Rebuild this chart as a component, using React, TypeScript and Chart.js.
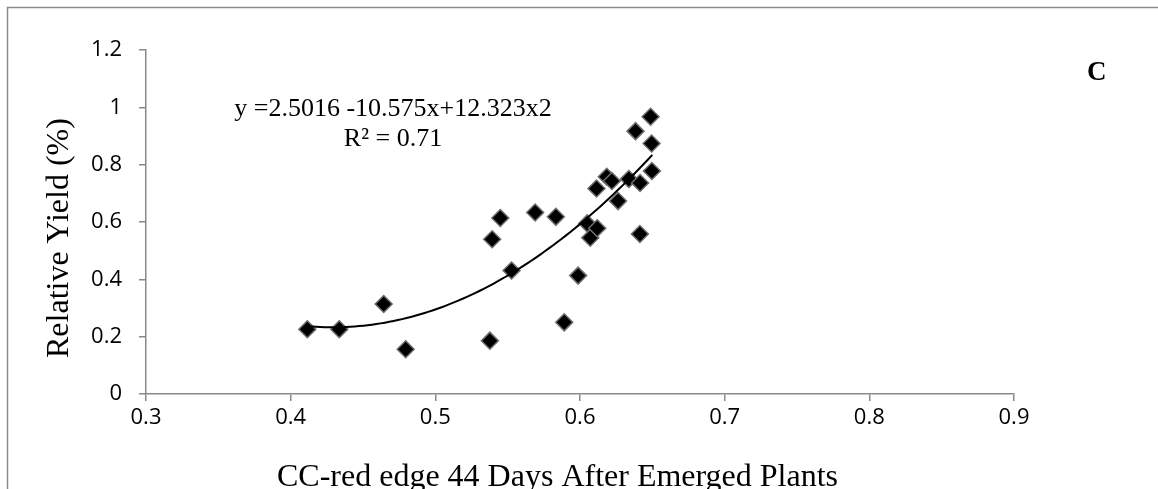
import React, { useEffect, useRef } from "react";
import { Chart, registerables } from "chart.js";

Chart.register(...registerables);

// Observed data (CC-red edge 44 DAE vs relative yield)
const ccRedEdge = [
  0.4115, 0.4336, 0.4643, 0.4795, 0.5377, 0.5393, 0.5449, 0.5527, 0.569, 0.5833,
  0.5891, 0.5987, 0.605, 0.6071, 0.6119, 0.6114, 0.6185, 0.622, 0.6263, 0.6338,
  0.6415, 0.6414, 0.6384, 0.6488, 0.6495, 0.6497,
];
const relativeYield = [
  0.226, 0.226, 0.314, 0.156, 0.186, 0.54, 0.614, 0.431, 0.633, 0.618,
  0.25, 0.413, 0.595, 0.545, 0.578, 0.717, 0.758, 0.743, 0.673, 0.75,
  0.736, 0.558, 0.917, 0.967, 0.874, 0.778,
];

// Polynomial trend line as printed on the chart: y = c0 + c1 x + c2 x^2
const trendCoefficients = [2.5016, -10.575, 12.323];
const trendXRange = [0.4115, 0.65];

const xTickValues = [0.3, 0.4, 0.5, 0.6, 0.7, 0.8, 0.9];
const yTickValues = [0, 0.2, 0.4, 0.6, 0.8, 1, 1.2];

const equationText = "y =2.5016 -10.575x+12.323x2";
const r2Text = "R² = 0.71";
const panelLabel = "C";
const xTitle = "CC-red edge 44 Days After Emerged Plants";
const yTitle = "Relative Yield (%)";

const W = 1158;
const H = 489;
const SERIF = "'Liberation Serif', 'Times New Roman', serif";
const SANS = "'Open Sans', 'Liberation Sans', sans-serif";
const AXIS_GRAY = "#898989";

const decorPlugin = {
  id: "decor",
  afterDraw(chart: any) {
    const ctx = chart.ctx;
    ctx.save();
    // outer frame (top & left visible)
    ctx.strokeStyle = "#8c8c8c";
    ctx.lineWidth = 1.5;
    ctx.beginPath();
    ctx.moveTo(7.5, H);
    ctx.lineTo(7.5, 7.5);
    ctx.lineTo(W, 7.5);
    ctx.stroke();

    ctx.fillStyle = "#000";
    // equation + R2
    ctx.font = `26px ${SERIF}`;
    ctx.textAlign = "center";
    ctx.textBaseline = "alphabetic";
    ctx.fillText(equationText, 393, 116);
    ctx.fillText(r2Text, 393, 146);

    // panel label
    ctx.font = `bold 27px ${SERIF}`;
    ctx.textAlign = "left";
    ctx.fillText(panelLabel, 1087, 80);

    // x title
    ctx.font = `32px ${SERIF}`;
    ctx.textAlign = "left";
    ctx.fillText(xTitle, 277, 486);

    // y title
    ctx.save();
    ctx.translate(68, 358);
    ctx.rotate(-Math.PI / 2);
    ctx.textAlign = "left";
    ctx.fillText(yTitle, 0, 0);
    ctx.restore();

    ctx.restore();
  },
};

export default function App() {
  const canvasRef = useRef<HTMLCanvasElement | null>(null);

  useEffect(() => {
    document.body.style.margin = "0";
    const canvas = canvasRef.current;
    if (!canvas) return;

    const points = ccRedEdge.map((x, i) => ({ x, y: relativeYield[i] }));
    const trend: { x: number; y: number }[] = [];
    const n = 80;
    for (let i = 0; i <= n; i++) {
      const x = trendXRange[0] + ((trendXRange[1] - trendXRange[0]) * i) / n;
      trend.push({
        x,
        y: trendCoefficients[0] + trendCoefficients[1] * x + trendCoefficients[2] * x * x,
      });
    }

    const chart = new Chart(canvas, {
      type: "scatter",
      data: {
        datasets: [
          {
            label: "trend",
            data: trend,
            showLine: true,
            borderColor: "#000",
            borderWidth: 2,
            pointRadius: 0,
            tension: 0,
            order: 0,
          } as any,
          {
            label: "points",
            data: points,
            pointStyle: "rectRot",
            pointRadius: 8.5,
            backgroundColor: "#000",
            borderColor: "#6e6e6e",
            borderWidth: 1.5,
            order: 1,
          } as any,
        ],
      },
      options: {
        responsive: false,
        animation: false,
        devicePixelRatio: 1,
        layout: { padding: { left: 0, top: 50, right: W - 1014, bottom: 0 } },
        plugins: {
          legend: { display: false },
          tooltip: { enabled: false },
        },
        scales: {
          x: {
            type: "linear",
            min: 0.3,
            max: 0.9,
            afterBuildTicks: (s: any) => {
              s.ticks = xTickValues.map((v) => ({ value: v }));
            },
            afterFit: (s: any) => {
              s.height = H - 394;
            },
            ticks: {
              color: "#000",
              font: { family: SANS, size: 22 },
              padding: 4,
              callback: (v: any) => String(Number(Number(v).toFixed(1))),
            },
            grid: {
              display: true,
              drawOnChartArea: false,
              drawTicks: true,
              tickLength: 7,
              color: AXIS_GRAY,
              lineWidth: 1.5,
            },
            border: { display: true, color: AXIS_GRAY, width: 1.5 },
          },
          y: {
            type: "linear",
            min: 0,
            max: 1.2,
            afterBuildTicks: (s: any) => {
              s.ticks = yTickValues.map((v) => ({ value: v }));
            },
            afterFit: (s: any) => {
              s.width = 146;
            },
            ticks: {
              color: "#000",
              font: { family: SANS, size: 22 },
              padding: 17,
              callback: (v: any) => String(Number(Number(v).toFixed(1))),
            },
            grid: {
              display: true,
              drawOnChartArea: false,
              drawTicks: true,
              tickLength: 7,
              color: AXIS_GRAY,
              lineWidth: 1.5,
            },
            border: { display: true, color: AXIS_GRAY, width: 1.5 },
          },
        },
      },
      plugins: [decorPlugin],
    });

    return () => chart.destroy();
  }, []);

  return (
    <div style={{ width: W, height: H, background: "#fff" }}>
      <canvas ref={canvasRef} width={W} height={H} style={{ display: "block" }} />
    </div>
  );
}
